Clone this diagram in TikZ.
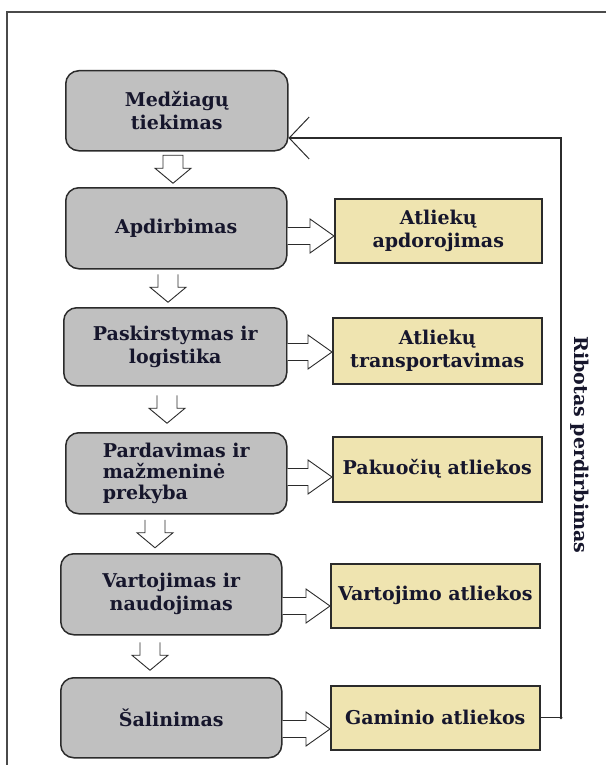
\documentclass[tikz,border=0pt]{standalone}
\usepackage{fontspec}
\setmainfont{DejaVu Serif}
\usetikzlibrary{arrows.meta,calc}

\definecolor{boxgray}{HTML}{C0C0C0}
\definecolor{wastefill}{HTML}{EFE4B0}
\definecolor{edge}{HTML}{2B2B2B}
\definecolor{ink}{HTML}{16162C}
\definecolor{framegray}{HTML}{4A4A4A}

% hollow block arrow pointing down, centred between two stacked stages
\newcommand\downblock[4]{%
  \coordinate (dbm) at ($(#1.south)!0.5!(#2.north)$);
  \coordinate (dbc) at (dbm -| #3,0);
  \draw[blockarrow] ([xshift=-10pt,yshift=14pt]dbc) -- ([xshift=-10pt,yshift=1pt]dbc)
    -- ([xshift=-18pt,yshift=1pt]dbc) -- ([yshift=-14pt]dbc)
    -- ([xshift=18pt,yshift=1pt]dbc) -- ([xshift=10pt,yshift=1pt]dbc)
    -- ([xshift=10pt,yshift=14pt]dbc) #4;
}

% hollow block arrow pointing right, from a stage to its waste box
\newcommand\rightblock[3]{%
  \coordinate (rbs) at (#1.east |- 0,#3);
  \coordinate (rbt) at (#2.west |- 0,#3);
  \draw[blockarrow] ([yshift=8.5pt]rbs) -- ([xshift=-24pt,yshift=8.5pt]rbt)
    -- ([xshift=-24pt,yshift=17pt]rbt) -- (rbt)
    -- ([xshift=-24pt,yshift=-17pt]rbt) -- ([xshift=-24pt,yshift=-8.5pt]rbt)
    -- ([yshift=-8.5pt]rbs);
}

\begin{document}
\begin{tikzpicture}[x=1pt,y=-1pt,
  stage/.style={draw=edge, line width=1.5pt, fill=boxgray, rounded corners=13pt,
    anchor=north west, inner sep=0pt, text=ink, align=center,
    font=\bfseries\fontsize{19}{23}\selectfont},
  waste/.style={draw=edge, line width=1.5pt, fill=wastefill,
    anchor=north west, inner sep=0pt, text=ink, align=center,
    font=\bfseries\fontsize{19}{23}\selectfont},
  blockarrow/.style={draw=edge, line width=0.9pt, fill=white, line join=miter},
  loopline/.style={draw=edge, line width=1.2pt}]

\useasboundingbox (0,0) rectangle (606,765);

% outer frame (top and left edges)
\draw[framegray, line width=2pt] (606,12) -- (7,12) -- (7,765);

% life-cycle stages
\node[stage, minimum width=222pt, minimum height=80pt] (s1) at (65,70) {Medžiagų\\tiekimas};
\node[stage, minimum width=221pt, minimum height=81pt] (s2) at (65,187) {Apdirbimas};
\node[stage, minimum width=223pt, minimum height=78pt] (s3) at (63,307) {Paskirstymas ir\\logistika};
\node[stage, minimum width=221pt, minimum height=81pt, align=left,
      font=\bfseries\fontsize{19}{21}\selectfont] (s4) at (65,432) {Pardavimas ir\\mažmeninė\\prekyba};
\node[stage, minimum width=221pt, minimum height=81pt] (s5) at (60,553) {Vartojimas ir\\naudojimas};
\node[stage, minimum width=221pt, minimum height=80pt] (s6) at (60,677) {Šalinimas};

% waste streams
\node[waste, minimum width=207pt, minimum height=64pt] (r2) at (334,198) {Atliekų\\apdorojimas};
\node[waste, minimum width=209pt, minimum height=66pt] (r3) at (332,317) {Atliekų\\transportavimas};
\node[waste, minimum width=209pt, minimum height=65pt] (r4) at (332,436) {Pakuočių atliekos};
\node[waste, minimum width=209pt, minimum height=64pt] (r5) at (330,563) {Vartojimo atliekos};
\node[waste, minimum width=209pt, minimum height=64pt] (r6) at (330,685) {Gaminio atliekos};

% flow between stages
\downblock{s1}{s2}{173}{-- cycle}
\downblock{s2}{s3}{168}{}
\downblock{s3}{s4}{167}{}
\downblock{s4}{s5}{155}{}
\downblock{s5}{s6}{150}{}

% stages to waste
\rightblock{s2}{r2}{236}
\rightblock{s3}{r3}{352}
\rightblock{s4}{r4}{477}
\rightblock{s5}{r5}{606}
\rightblock{s6}{r6}{729}

% limited recycling loop
\coordinate (rail) at (561,0);
\coordinate (fbk) at (0,138);
\draw[loopline, -{Straight Barb[length=20pt,width=42pt,line width=1pt]}]
  (r6.east) -- (r6.east -| rail) |- (s1.east |- fbk);
\fill[edge] (r6.east -| rail) circle (1.6);
\node[rotate=-90, text=ink, font=\bfseries\fontsize{19}{21}\selectfont] (loop) at (580,445) {Ribotas perdirbimas};

\end{tikzpicture}
\end{document}
